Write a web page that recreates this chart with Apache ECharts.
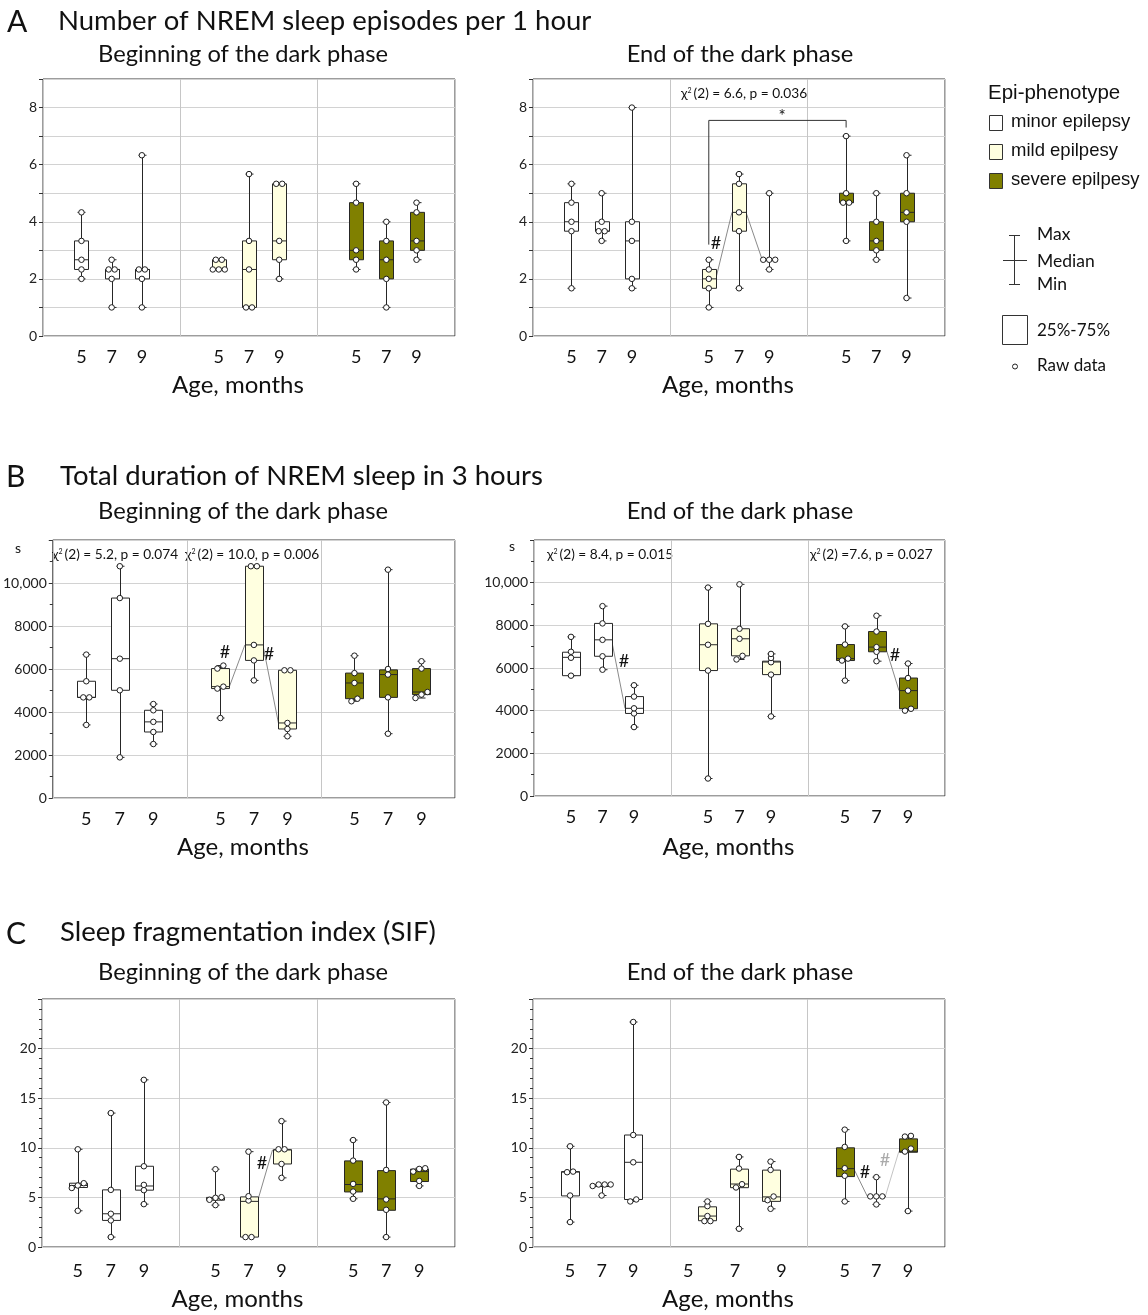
<!DOCTYPE html>
<html><head><meta charset="utf-8">
<script src="https://cdn.jsdelivr.net/npm/echarts@6/dist/echarts.min.js"></script>
<style>html,body{margin:0;padding:0;background:#fff}#c{width:1148px;height:1315px}</style>
</head><body><div id="c"></div>
<script>
// ---------------- DATA ----------------
const AGES = ['5', '7', '9'];
const PHENOTYPES = ['minor epilepsy', 'mild epilpesy', 'severe epilpesy'];
// box order: minor 5,7,9 | mild 5,7,9 | severe 5,7,9
// A: Number of NREM sleep episodes per 1 hour
const A_BEGIN_RAW = [
  [2, 2.33, 2.67, 3.33, 4.33], [1, 2, 2.33, 2.33, 2.67], [1, 2, 2.33, 2.33, 6.33],
  [2.33, 2.33, 2.33, 2.67, 2.67], [1, 1, 2.33, 3.33, 5.67], [2, 2.67, 3.33, 5.33, 5.33],
  [2.33, 2.67, 3, 4.67, 5.33], [1, 2, 2.67, 3.33, 4], [2.67, 3, 3.33, 4.33, 4.67]];
// [min, q25, median, q75, max]
const A_BEGIN_BOX = [
  [2, 2.33, 2.67, 3.33, 4.33], [1, 2, 2.33, 2.33, 2.67], [1, 2, 2.33, 2.33, 6.33],
  [2.33, 2.33, 2.33, 2.67, 2.67], [1, 1, 2.33, 3.33, 5.67], [2, 2.67, 3.33, 5.33, 5.33],
  [2.33, 2.67, 3, 4.67, 5.33], [1, 2, 2.67, 3.33, 4], [2.67, 3, 3.33, 4.33, 4.67]];
const A_END_RAW = [
  [1.67, 3.67, 4, 4.67, 5.33], [3.33, 3.67, 3.67, 4, 5], [1.67, 2, 3.33, 4, 8],
  [1, 1.67, 2, 2.33, 2.67], [1.67, 3.67, 4.33, 5.33, 5.67], [2.33, 2.67, 2.67, 2.67, 5],
  [3.33, 4.67, 4.67, 5, 7], [2.67, 3, 3.33, 4, 5], [1.33, 4, 4.33, 5, 6.33]];
const A_END_BOX = [
  [1.67, 3.67, 4, 4.67, 5.33], [3.33, 3.67, 3.67, 4, 5], [1.67, 2, 3.33, 4, 8],
  [1, 1.67, 2, 2.33, 2.67], [1.67, 3.67, 4.33, 5.33, 5.67], [2.33, 2.67, 2.67, 2.67, 5],
  [3.33, 4.67, 4.67, 5, 7], [2.67, 3, 3.33, 4, 5], [1.33, 4, 4.33, 5, 6.33]];
// B: Total duration of NREM sleep in 3 hours (s)
const B_BEGIN_RAW = [
  [3400, 4680, 4680, 5430, 6670], [1890, 5010, 6480, 9300, 10780], [2510, 3070, 3540, 4080, 4370],
  [3720, 5090, 5180, 6020, 6160], [5470, 6400, 7120, 10780, 10780], [2870, 3210, 3490, 5940, 5940],
  [4500, 4620, 5350, 5810, 6620], [2990, 4680, 5740, 6000, 10620], [4650, 4810, 4930, 6020, 6360]];
const B_BEGIN_BOX = [
  [3400, 4680, 4680, 5430, 6670], [1890, 5010, 6480, 9300, 10780], [2510, 3070, 3540, 4080, 4370],
  [3720, 5090, 5180, 6020, 6160], [5470, 6400, 7120, 10780, 10780], [2870, 3210, 3490, 5940, 5940],
  [4500, 4620, 5350, 5810, 6620], [2990, 4680, 5740, 5960, 10620], [4650, 4810, 4930, 6020, 6360]];
const B_END_RAW = [
  [5640, 6480, 6760, 7460], [5920, 6550, 7320, 8090, 8900], [3230, 3870, 4110, 4660, 5190],
  [820, 5880, 7090, 8070, 9770], [6400, 6570, 7370, 7840, 9920], [3730, 5690, 6270, 6470, 6660],
  [5410, 6350, 6440, 7100, 7950], [6320, 6760, 6980, 7710, 8450], [4000, 4090, 4940, 5530, 6210]];
const B_END_BOX = [
  [5640, 5640, 6500, 6740, 7460], [5920, 6550, 7320, 8090, 8900], [3230, 3870, 4110, 4660, 5190],
  [820, 5880, 7090, 8070, 9770], [6400, 6570, 7370, 7840, 9920], [3730, 5690, 6280, 6320, 6660],
  [5410, 6350, 6440, 7100, 7950], [6320, 6760, 6980, 7710, 8450], [4000, 4090, 4940, 5530, 6210]];
// C: Sleep fragmentation index (SIF)
const C_BEGIN_RAW = [
  [3.65, 5.95, 6.2, 6.43, 9.85], [1, 2.68, 3.35, 5.76, 13.5], [4.32, 5.73, 6.26, 8.14, 16.85],
  [4.22, 4.76, 4.96, 5.02, 7.84], [1, 1, 4.69, 5.12, 9.61], [6.97, 8.37, 9.85, 9.85, 12.69],
  [4.86, 5.59, 6.36, 8.71, 10.78], [1, 3.75, 4.79, 7.77, 14.57], [6.16, 6.66, 7.6, 7.87, 7.94]];
const C_BEGIN_BOX = [
  [3.65, 6.0, 6.2, 6.43, 9.85], [1, 2.68, 3.35, 5.76, 13.5], [4.32, 5.73, 6.15, 8.14, 16.85],
  [4.22, 4.72, 4.9, 5.0, 7.84], [1, 1, 4.6, 5.05, 9.61], [6.97, 8.37, 9.8, 9.8, 12.69],
  [4.86, 5.55, 6.3, 8.68, 10.78], [1, 3.7, 4.85, 7.7, 14.57], [6.16, 6.6, 7.6, 7.85, 7.94]];
const C_END_RAW = [
  [2.51, 5.19, 7.54, 7.6, 10.15], [5.19, 6.15, 6.3, 6.3, 6.3], [4.59, 4.79, 8.54, 11.29, 22.68],
  [2.61, 2.61, 3.12, 4.12, 4.59], [1.84, 6.0, 6.33, 7.91, 9.08], [3.85, 4.72, 5.09, 7.77, 8.61],
  [4.59, 7.18, 7.94, 10.09, 11.83], [4.29, 5.1, 5.1, 5.1, 7.04], [3.62, 9.62, 9.92, 11.13, 11.2]];
const C_END_BOX = [
  [2.51, 5.15, 7.55, 7.6, 10.15], [5.19, 6.1, 6.3, 6.3, 6.3], [4.59, 4.79, 8.54, 11.29, 22.68],
  [2.61, 2.65, 3.12, 4.05, 4.59], [1.84, 5.98, 6.35, 7.85, 9.08], [3.85, 4.6, 5.05, 7.75, 8.61],
  [4.59, 7.1, 7.9, 10.0, 11.83], [4.29, 5.1, 5.1, 5.1, 7.04], [3.62, 9.55, 9.65, 10.9, 11.2]];
// median connectors between boxes: [from, to, light]
const A_BEGIN_LINKS = [];
const A_END_LINKS = [[3, 4, 0], [4, 5, 0]];
const B_BEGIN_LINKS = [[3, 4, 0], [4, 5, 0]];
const B_END_LINKS = [[1, 2, 0], [7, 8, 0]];
const C_BEGIN_LINKS = [[4, 5, 0]];
const C_END_LINKS = [[6, 7, 0], [7, 8, 1]];
// significance bracket (A, end): box indices and levels [start, top, end]
const A_END_BRACKET = { from: 3, to: 6, levels: [3.2, 7.55, 7.3] };

// ---------------- LAYOUT ----------------
const FILLS = ['#ffffff', '#ffffe0', '#808000'];
const FONT = 'Lato, "Open Sans", sans-serif';
const ARIAL = '"Liberation Sans", Arial, sans-serif';
const PANELS = [
  { raw: A_BEGIN_RAW, box: A_BEGIN_BOX, links: A_BEGIN_LINKS, g: { left: 43, top: 79, width: 412, height: 257 }, kind: 'A', off: 0.22, hw: 7, nameGap: 37, lm: 12 },
  { raw: A_END_RAW, box: A_END_BOX, links: A_END_LINKS, g: { left: 533, top: 79, width: 412, height: 257 }, kind: 'A', off: 0.22, hw: 7, nameGap: 37, lm: 12 },
  { raw: B_BEGIN_RAW, box: B_BEGIN_BOX, links: B_BEGIN_LINKS, g: { left: 42, top: 540, width: 413, height: 258 }, kind: 'B', off: 0.25, hw: 9, nameGap: 37, lm: 12 },
  { raw: B_END_RAW, box: B_END_BOX, links: B_END_LINKS, g: { left: 534, top: 540, width: 411, height: 256 }, kind: 'B', off: 0.23, hw: 9, nameGap: 39, lm: 12 },
  { raw: C_BEGIN_RAW, box: C_BEGIN_BOX, links: C_BEGIN_LINKS, g: { left: 42, top: 999, width: 413, height: 248 }, kind: 'C', off: 0.24, hw: 9, nameGap: 40, lm: 15 },
  { raw: C_END_RAW, box: C_END_BOX, links: C_END_LINKS, g: { left: 533, top: 999, width: 412, height: 248 }, kind: 'C', off: 0.23, hw: 9, nameGap: 40, lm: 15, labOff: [0.23, 0.34, 0.23], labShift: [0, -0.03, 0] }
];
const YCFG = {
  A: { max: 9, interval: 1, minor: 0, fmt: v => (v % 2 === 0 && v < 9) ? String(v) : '' },
  B: { max: 12000, interval: 2000, minor: 2, fmt: v => v === 12000 ? '' : (v === 10000 ? '10,000' : String(v)) },
  C: { max: 25, interval: 5, minor: 5, fmt: v => v === 25 ? '' : String(v) }
};

const grids = [], xAxes = [], yAxes = [], series = [];
PANELS.forEach((p, i) => {
  const y = YCFG[p.kind];
  const pos = k => Math.floor(k / 3) + 0.5 + (k % 3 - 1) * p.off;
  const labPos = k => {
    const g = Math.floor(k / 3);
    const o = p.labOff ? p.labOff[g] : p.off, s = p.labShift ? p.labShift[g] : 0;
    return g + 0.5 + s + (k % 3 - 1) * o;
  };
  const POS = [0, 1, 2, 3, 4, 5, 6, 7, 8].map(labPos);
  grids.push(Object.assign({ show: true, borderColor: '#3a3a3a', borderWidth: 1, backgroundColor: 'transparent' }, p.g));
  xAxes.push({
    gridIndex: i, type: 'value', min: 0, max: 3, interval: 1,
    axisLine: { show: false }, axisTick: { show: false },
    splitLine: { show: true, lineStyle: { color: '#c6c6c6', width: 1 } },
    axisLabel: { customValues: POS, formatter: (v) => { const k = POS.findIndex(q => Math.abs(q - v) < 1e-6); return k < 0 ? '' : AGES[k % 3]; }, fontSize: 18, color: '#111', fontFamily: FONT, margin: p.lm },
    name: 'Age, months', nameLocation: 'middle', nameGap: p.nameGap,
    nameTextStyle: { fontSize: 24, color: '#111', fontFamily: FONT, padding: [0, 22, 0, 0] }
  });
  yAxes.push({
    gridIndex: i, type: 'value', min: 0, max: y.max, interval: y.interval,
    axisLine: { show: false },
    axisTick: { show: true, length: 4, lineStyle: { color: '#333' } },
    minorTick: { show: y.minor > 0, splitNumber: y.minor || 5, length: 3, lineStyle: { color: '#333' } },
    splitLine: { show: true, lineStyle: { color: '#d2d2d2', width: 1.2 } },
    axisLabel: { formatter: y.fmt, fontSize: 14, color: '#222', fontFamily: FONT, margin: 6 }
  });
  const boxData = p.box.map((b, k) => [pos(k), b[0], b[1], b[2], b[3], b[4], Math.floor(k / 3)]);
  series.push({
    type: 'custom', xAxisIndex: i, yAxisIndex: i, z: 2, clip: false, data: boxData,
    renderItem: (params, api) => {
      const x = api.value(0);
      const mn = api.coord([x, api.value(1)]), q1 = api.coord([x, api.value(2)]);
      const md = api.coord([x, api.value(3)]), q3 = api.coord([x, api.value(4)]);
      const mx = api.coord([x, api.value(5)]);
      const cx = Math.round(mn[0]) + 0.5, hw = p.hw, cw = 4;
      const st = { stroke: '#262626', lineWidth: 1 };
      return {
        type: 'group', children: [
          { type: 'line', shape: { x1: cx, y1: mx[1], x2: cx, y2: mn[1] }, style: st },
          { type: 'line', shape: { x1: cx - cw, y1: mx[1], x2: cx + cw, y2: mx[1] }, style: st },
          { type: 'line', shape: { x1: cx - cw, y1: mn[1], x2: cx + cw, y2: mn[1] }, style: st },
          { type: 'rect', shape: { x: cx - hw, y: q3[1], width: 2 * hw, height: Math.max(q1[1] - q3[1], 0) }, style: { fill: FILLS[api.value(6)], stroke: '#262626', lineWidth: 1 } },
          { type: 'line', shape: { x1: cx - hw, y1: md[1], x2: cx + hw, y2: md[1] }, style: st }
        ]
      };
    }
  });
  // median connectors
  if (p.links.length) {
    series.push({
      type: 'custom', xAxisIndex: i, yAxisIndex: i, z: 1, clip: false,
      data: p.links.map(([a, b, l]) => [pos(a), p.box[a][2], pos(b), p.box[b][2], l]),
      renderItem: (params, api) => {
        const s = api.coord([api.value(0), api.value(1)]), e = api.coord([api.value(2), api.value(3)]);
        return { type: 'line', shape: { x1: s[0] + p.hw, y1: s[1], x2: e[0] - p.hw, y2: e[1] }, style: { stroke: api.value(4) ? '#c4c4c4' : '#8a8a8a', lineWidth: 1 } };
      }
    });
  }
  // raw data points with overlap spreading
  const pxPerUnit = p.g.height / y.max;
  const pts = [];
  p.raw.forEach((vals, k) => {
    const sorted = vals.slice().sort((a, b) => a - b);
    const clusters = [];
    sorted.forEach(v => {
      const last = clusters[clusters.length - 1];
      if (last && (v - last[last.length - 1]) * pxPerUnit < 4) last.push(v); else clusters.push([v]);
    });
    clusters.forEach(c => c.forEach((v, j) => pts.push({ value: [pos(k), v], symbolOffset: [(j - (c.length - 1) / 2) * 6, 0] })));
  });
  series.push({
    type: 'scatter', xAxisIndex: i, yAxisIndex: i, z: 5, data: pts, symbol: 'circle', symbolSize: 5.5,
    itemStyle: { color: '#ffffff', borderColor: '#1e1e1e', borderWidth: 1, opacity: 1 }, silent: true
  });
  if (i === 1) {
    const B = A_END_BRACKET;
    series.push({
      type: 'custom', xAxisIndex: i, yAxisIndex: i, z: 3, clip: false,
      data: [[pos(B.from), B.levels[0], B.levels[1], pos(B.to), B.levels[2]]],
      renderItem: (params, api) => {
        const a = api.coord([api.value(0), api.value(1)]), b = api.coord([api.value(0), api.value(2)]);
        const c = api.coord([api.value(3), api.value(2)]), d = api.coord([api.value(3), api.value(4)]);
        return { type: 'polyline', shape: { points: [a, b, c, d] }, style: { stroke: '#333', lineWidth: 1, fill: null } };
      }
    });
  }
});

// ---------------- TEXT / LEGEND ----------------
function T(x, y, text, size, o) {
  return { type: 'text', x: x, y: y, silent: true, style: Object.assign({ text: text, fontSize: size, fontFamily: FONT, fill: '#111', textAlign: 'left', align: 'left', textVerticalAlign: 'middle', verticalAlign: 'middle' }, o || {}) };
}
function CHI(x, y, rest) {
  return { type: 'text', x: x, y: y, silent: true, style: {
    text: '{c|χ}{s|2}{c|' + rest + '}', fontFamily: FONT, fill: '#111', verticalAlign: 'middle', textVerticalAlign: 'middle',
    rich: { c: { fontSize: 13.7, fontFamily: FONT, fill: '#111', color: '#111' }, s: { fontSize: 7, fontFamily: FONT, verticalAlign: 'top', color: '#111', padding: [0, 2, 0, 0] } } } };
}
const CENTER = { textAlign: 'center', align: 'center' };
const graphics = [
  T(7, 22, 'A', 30), T(58, 21, 'Number of NREM sleep episodes per 1 hour', 27.5),
  T(243, 54, 'Beginning of the dark phase', 23.7, CENTER),
  T(740, 54, 'End of the dark phase', 23.7, CENTER),
  T(6, 477, 'B', 30), T(60, 476, 'Total duration of NREM sleep in 3 hours', 27.5),
  T(243, 511, 'Beginning of the dark phase', 23.7, CENTER),
  T(740, 511, 'End of the dark phase', 23.7, CENTER),
  T(6, 934, 'C', 30), T(60, 932, 'Sleep fragmentation index (SIF)', 27.5),
  T(243, 972, 'Beginning of the dark phase', 23.7, CENTER),
  T(740, 972, 'End of the dark phase', 23.7, CENTER),
  T(15, 548, 's', 14), T(509, 546, 's', 14),
  CHI(681, 94, '(2) = 6.6, p = 0.036'),
  CHI(52, 555, '(2) = 5.2, p = 0.074'), CHI(185, 555, '(2) = 10.0, p = 0.006'),
  CHI(547, 555, '(2) = 8.4, p = 0.015'), CHI(810, 555, '(2) =7.6, p = 0.027'),
  T(782, 117, '*', 17, CENTER),
  T(716, 243, '#', 18, CENTER), T(225, 652, '#', 18, CENTER), T(269, 654, '#', 18, CENTER),
  T(624, 661, '#', 18, CENTER), T(895, 655, '#', 18, CENTER), T(262, 1163, '#', 18, CENTER),
  T(865, 1172, '#', 18, CENTER), T(885, 1160, '#', 18, Object.assign({ fill: '#aaaaaa' }, CENTER)),
  // legend
  T(988, 93, 'Epi-phenotype', 20.5, { fontFamily: ARIAL }),
  T(1011, 122, PHENOTYPES[0], 18.5, { fontFamily: ARIAL }),
  T(1011, 151, PHENOTYPES[1], 18.5, { fontFamily: ARIAL }),
  T(1011, 180, PHENOTYPES[2], 18.5, { fontFamily: ARIAL }),
  { type: 'rect', shape: { x: 989.5, y: 115.5, width: 13, height: 15 }, style: { fill: FILLS[0], stroke: '#333', lineWidth: 1 } },
  { type: 'rect', shape: { x: 989.5, y: 144.5, width: 13, height: 15 }, style: { fill: FILLS[1], stroke: '#333', lineWidth: 1 } },
  { type: 'rect', shape: { x: 989.5, y: 173.5, width: 13, height: 15 }, style: { fill: FILLS[2], stroke: '#333', lineWidth: 1 } },
  { type: 'line', shape: { x1: 1014.5, y1: 235.5, x2: 1014.5, y2: 284.5 }, style: { stroke: '#333', lineWidth: 1 } },
  { type: 'line', shape: { x1: 1009, y1: 235.5, x2: 1020, y2: 235.5 }, style: { stroke: '#333', lineWidth: 1 } },
  { type: 'line', shape: { x1: 1003, y1: 260.5, x2: 1027, y2: 260.5 }, style: { stroke: '#333', lineWidth: 1 } },
  { type: 'line', shape: { x1: 1009, y1: 284.5, x2: 1020, y2: 284.5 }, style: { stroke: '#333', lineWidth: 1 } },
  T(1037, 234, 'Max', 17.5), T(1037, 261, 'Median', 17.5), T(1037, 284, 'Min', 17.5),
  { type: 'rect', shape: { x: 1002.5, y: 315.5, width: 25, height: 29 }, style: { fill: '#fff', stroke: '#333', lineWidth: 1 } },
  T(1037, 331, '25%-75%', 17),
  { type: 'circle', shape: { cx: 1015, cy: 366.5, r: 2.5 }, style: { fill: '#fff', stroke: '#222', lineWidth: 1 } },
  T(1037, 366, 'Raw data', 17)
];

const chart = echarts.init(document.getElementById('c'), null, { renderer: 'canvas', width: 1148, height: 1315 });
chart.setOption({
  animation: false, backgroundColor: '#ffffff',
  grid: grids, xAxis: xAxes, yAxis: yAxes, series: series,
  graphic: { elements: graphics }
});
</script></body></html>
